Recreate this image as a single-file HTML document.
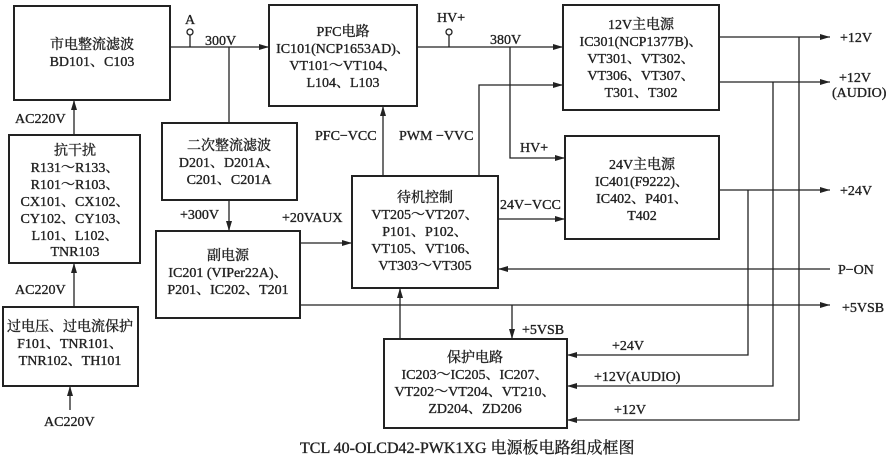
<!DOCTYPE html>
<html><head><meta charset="utf-8"><style>
html,body{margin:0;padding:0;background:#fff;}
svg{display:block;}
text{font-family:"Liberation Serif","Noto Serif CJK SC",serif;font-size:14px;fill:#222;stroke:#222;stroke-width:0.35;}
.c{text-anchor:middle;}
</style></head><body>
<svg width="893" height="466" viewBox="0 0 893 466" xmlns="http://www.w3.org/2000/svg">
<defs><marker id="a" markerWidth="10" markerHeight="6" refX="10" refY="3" orient="auto" markerUnits="userSpaceOnUse"><path d="M0,0 L10,3 L0,6 z" fill="#222"/></marker></defs>
<g fill="none" stroke="#222" stroke-width="2">
<rect x="14" y="6" width="156" height="94"/>
<rect x="269" y="5" width="148" height="101"/>
<rect x="563" y="5" width="156" height="105"/>
<rect x="9" y="135" width="131" height="128"/>
<rect x="162" y="123" width="135" height="77"/>
<rect x="352" y="176" width="146" height="112"/>
<rect x="565" y="136" width="154" height="103"/>
<rect x="156" y="231" width="144" height="87"/>
<rect x="3" y="307" width="135" height="79"/>
<rect x="384" y="339" width="183" height="89"/>
</g>
<g fill="none" stroke="#222" stroke-width="1.3">
<line x1="170" y1="47" x2="269" y2="47" marker-end="url(#a)"/>
<line x1="190" y1="47" x2="190" y2="35"/>
<line x1="229" y1="47" x2="229" y2="123"/>
<line x1="229" y1="200" x2="229" y2="231" marker-end="url(#a)"/>
<line x1="300" y1="243" x2="352" y2="243" marker-end="url(#a)"/>
<line x1="300" y1="305" x2="830" y2="305" marker-end="url(#a)"/>
<line x1="512" y1="305" x2="512" y2="339" marker-end="url(#a)"/>
<line x1="383" y1="176" x2="383" y2="106" marker-end="url(#a)"/>
<polyline points="479,176 479,85 563,85" marker-end="url(#a)"/>
<line x1="417" y1="47" x2="563" y2="47" marker-end="url(#a)"/>
<line x1="449" y1="47" x2="449" y2="35"/>
<polyline points="510,47 510,158 565,158" marker-end="url(#a)"/>
<line x1="498" y1="219" x2="565" y2="219" marker-end="url(#a)"/>
<line x1="719" y1="37" x2="830" y2="37" marker-end="url(#a)"/>
<line x1="719" y1="82" x2="830" y2="82" marker-end="url(#a)"/>
<line x1="719" y1="190" x2="830" y2="190" marker-end="url(#a)"/>
<polyline points="799,37 799,420 567,420" marker-end="url(#a)"/>
<polyline points="773,82 773,386 567,386" marker-end="url(#a)"/>
<polyline points="748,190 748,355 567,355" marker-end="url(#a)"/>
<line x1="830" y1="269" x2="498" y2="269" marker-end="url(#a)"/>
<line x1="400" y1="339" x2="400" y2="288" marker-end="url(#a)"/>
<line x1="74" y1="135" x2="74" y2="100" marker-end="url(#a)"/>
<line x1="74" y1="307" x2="74" y2="263" marker-end="url(#a)"/>
<line x1="70" y1="410" x2="70" y2="386" marker-end="url(#a)"/>
<circle cx="190" cy="32" r="3" fill="#fff"/>
<circle cx="449" cy="32" r="3" fill="#fff"/>
</g>
<text class="c" x="92" y="49">市电整流滤波</text>
<text class="c" x="92" y="66">BD101、C103</text>
<text class="c" x="343" y="36">PFC电路</text>
<text class="c" x="343" y="53">IC101(NCP1653AD)、</text>
<text class="c" x="343" y="70">VT101～VT104、</text>
<text class="c" x="343" y="87">L104、L103</text>
<text class="c" x="641" y="29">12V主电源</text>
<text class="c" x="641" y="46">IC301(NCP1377B)、</text>
<text class="c" x="641" y="63">VT301、VT302、</text>
<text class="c" x="641" y="80">VT306、VT307、</text>
<text class="c" x="641" y="97">T301、T302</text>
<text class="c" x="75" y="155">抗干扰</text>
<text class="c" x="75" y="172">R131～R133、</text>
<text class="c" x="75" y="189">R101～R103、</text>
<text class="c" x="75" y="206">CX101、CX102、</text>
<text class="c" x="75" y="223">CY102、CY103、</text>
<text class="c" x="75" y="240">L101、L102、</text>
<text class="c" x="75" y="256">TNR103</text>
<text class="c" x="229" y="150">二次整流滤波</text>
<text class="c" x="229" y="167">D201、D201A、</text>
<text class="c" x="229" y="184">C201、C201A</text>
<text class="c" x="425" y="202">待机控制</text>
<text class="c" x="425" y="219">VT205～VT207、</text>
<text class="c" x="425" y="236">P101、P102、</text>
<text class="c" x="425" y="253">VT105、VT106、</text>
<text class="c" x="425" y="270">VT303～VT305</text>
<text class="c" x="642" y="169">24V主电源</text>
<text class="c" x="642" y="186">IC401(F9222)、</text>
<text class="c" x="642" y="203">IC402、P401、</text>
<text class="c" x="642" y="220">T402</text>
<text class="c" x="228" y="260">副电源</text>
<text class="c" x="228" y="277">IC201 (VIPer22A)、</text>
<text class="c" x="228" y="294">P201、IC202、T201</text>
<text class="c" x="70" y="331">过电压、过电流保护</text>
<text class="c" x="70" y="348">F101、TNR101、</text>
<text class="c" x="70" y="365">TNR102、TH101</text>
<text class="c" x="475" y="362">保护电路</text>
<text class="c" x="475" y="379">IC203～IC205、IC207、</text>
<text class="c" x="475" y="396">VT202～VT204、VT210、</text>
<text class="c" x="475" y="413">ZD204、ZD206</text>
<text x="185" y="24">A</text>
<text x="205" y="45">300V</text>
<text x="437" y="22">HV+</text>
<text x="490" y="44">380V</text>
<text x="520" y="152">HV+</text>
<text x="315" y="140">PFC−VCC</text>
<text x="399" y="140">PWM −VVC</text>
<text x="500" y="209">24V−VCC</text>
<text x="282" y="222">+20VAUX</text>
<text x="180" y="219">+300V</text>
<text x="15" y="123">AC220V</text>
<text x="15" y="294">AC220V</text>
<text x="44" y="426">AC220V</text>
<text x="840" y="42">+12V</text>
<text x="839" y="82">+12V</text>
<text x="832" y="97">(AUDIO)</text>
<text x="840" y="195">+24V</text>
<text x="838" y="274">P−ON</text>
<text x="842" y="312">+5VSB</text>
<text x="522" y="334">+5VSB</text>
<text x="612" y="350">+24V</text>
<text x="594" y="381">+12V(AUDIO)</text>
<text x="614" y="414">+12V</text>
<text x="300" y="453" style="font-size:16px">TCL 40-OLCD42-PWK1XG 电源板电路组成框图</text>
</svg>
</body></html>
